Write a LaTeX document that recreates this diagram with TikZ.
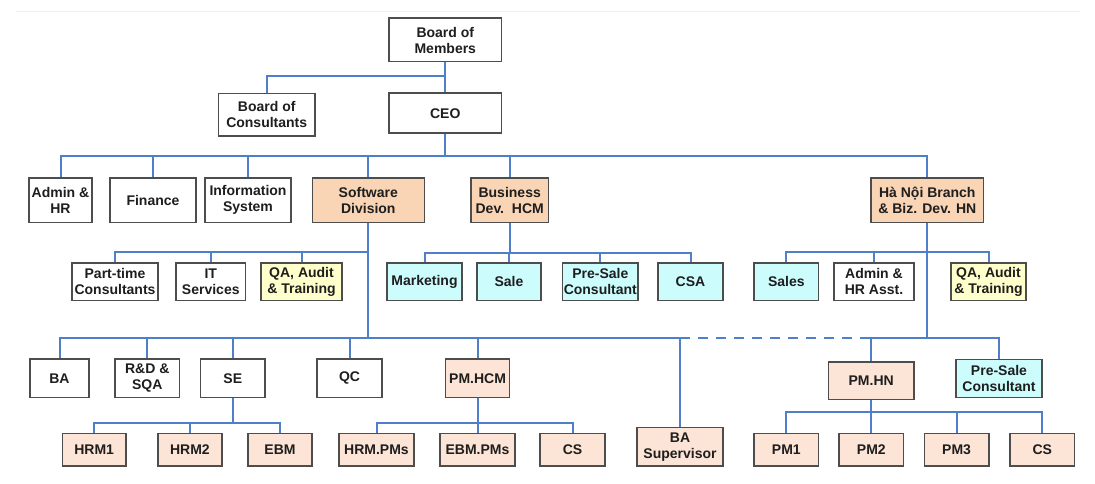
\documentclass[tikz,border=0pt]{standalone}
\usepackage{fontspec}
\setmainfont{Liberation Sans}
\usetikzlibrary{backgrounds}
\definecolor{boxgray}{HTML}{4D4D4D}
\definecolor{txt}{HTML}{1E1E1E}
\definecolor{peachD}{HTML}{F9D4B5}
\definecolor{peachL}{HTML}{FCE4D6}
\definecolor{cyanL}{HTML}{CCFCFC}
\definecolor{yelL}{HTML}{FFFFCC}
\definecolor{lineblue}{HTML}{4F7FC9}
\definecolor{faint}{HTML}{EEEEEE}
\begin{document}
\begin{tikzpicture}[x=1pt,y=-1pt,
  box/.style={draw=boxgray, line width=1.6pt, align=center, inner sep=0pt, text=txt,
    font=\fontsize{14}{16}\selectfont\bfseries},
  sz/.style 2 args={minimum width=#1pt, minimum height=#2pt},
  pD/.style={box, fill=peachD},
  pL/.style={box, fill=peachL},
  cy/.style={box, fill=cyanL},
  yl/.style={box, fill=yelL},
  wt/.style={box, fill=white},
  conn/.style={draw=lineblue, line width=2pt},
  dashconn/.style={conn, dash pattern=on 10pt off 8pt}]
\useasboundingbox (0,0) rectangle (1095,484);
\draw[faint, line width=1pt] (16,12) -- (1080,12);

% level 0-1
\node[wt, sz={112.6}{43.4}] (bom) at (445.3,40) {Board of\\Members};
\node[wt, sz={96.5}{42.7}] (boc) at (266.7,114.7) {Board of\\Consultants};
\node[wt, sz={112.6}{40}] (ceo) at (445.3,113.3) {CEO};

% row 2
\node[wt, sz={63}{44.7}] (admin) at (60.5,200.3) {Admin \&\\HR};
\node[wt, sz={86}{44.7}] (fin) at (153,200.3) {Finance};
\node[wt, sz={86}{44.7}] (info) at (248,200.3) {Information\\System};
\node[pD, sz={112}{44.7}] (soft) at (368.3,200.3) {Software\\Division};
\node[pD, sz={77.3}{44.7}] (bus) at (509.7,200.3) {Business\\Dev.\ \ HCM};
\node[pD, sz={112.5}{44.7}] (hn) at (927.3,200.3) {Hà Nội Branch\\\& Biz. Dev. HN};

% row 3
\node[wt, sz={86}{37.7}] (pt) at (115,281.8) {Part-time\\Consultants};
\node[wt, sz={69.5}{37.7}] (it) at (210.8,281.8) {IT\\Services};
\node[yl, sz={81}{37.7}] (qa) at (301.5,281.8) {QA, Audit\\\& Training};
\node[cy, sz={75}{37.7}] (mkt) at (424.5,281.8) {Marketing};
\node[cy, sz={64}{37.7}] (sale) at (509,281.8) {Sale};
\node[cy, sz={75.5}{37.7}] (presale) at (600.3,281.8) {Pre-Sale\\Consultant};
\node[cy, sz={65}{37.7}] (csa) at (690.5,281.8) {CSA};
\node[cy, sz={64.6}{37.7}] (sales) at (786.3,281.8) {Sales};
\node[wt, sz={80}{37.7}] (asst) at (874,281.8) {Admin \&\\HR Asst.};
\node[yl, sz={75}{37.7}] (qahn) at (988.5,281.8) {QA, Audit\\\& Training};

% row 4
\node[wt, sz={59}{38.3}] (ba) at (59.5,378.2) {BA};
\node[wt, sz={64.6}{38.3}] (rd) at (147.3,378.2) {R\&D \&\\SQA};
\node[wt, sz={64.4}{38.3}] (se) at (232.8,378.2) {SE};
\node[wt, sz={65}{38.3}] (qc) at (349.5,378.2) {QC};
\node[pL, sz={64}{38.3}] (pmhcm) at (477.6,378.2) {PM.HCM};
\node[pL, sz={86}{38.7}] (basup) at (680,446.7) {BA\\Supervisor};
\node[pL, sz={85.6}{37.6}] (pmhn) at (871.2,380.5) {PM.HN};
\node[cy, sz={86}{38}] (presalehn) at (999,378.3) {Pre-Sale\\Consultant};

% row 5
\node[pL, sz={63.6}{32.7}] (hrm1) at (94.2,449.7) {HRM1};
\node[pL, sz={63.7}{32.7}] (hrm2) at (189.9,449.7) {HRM2};
\node[pL, sz={64}{32.7}] (ebm) at (280,449.7) {EBM};
\node[pL, sz={75}{32.7}] (hrmpm) at (376.5,449.7) {HRM.PMs};
\node[pL, sz={75}{32.7}] (ebmpm) at (477.5,449.7) {EBM.PMs};
\node[pL, sz={65}{32.7}] (cs) at (572.5,449.7) {CS};
\node[pL, sz={64.6}{32.7}] (pm1) at (786.3,449.7) {PM1};
\node[pL, sz={64.5}{32.7}] (pm2) at (871.3,449.7) {PM2};
\node[pL, sz={64.2}{32.7}] (pm3) at (956.6,449.7) {PM3};
\node[pL, sz={64.6}{32.7}] (cs2) at (1042.3,449.7) {CS};

% bus levels
\coordinate (b0) at (0,76);
\coordinate (b1) at (0,156);
\coordinate (b3s) at (0,251.7);
\coordinate (b3b) at (0,253.3);
\coordinate (b3n) at (0,251.7);
\coordinate (b4) at (0,338.3);
\coordinate (bse) at (0,422.7);
\coordinate (bpm) at (0,422.7);
\coordinate (bhn) at (0,412.3);

\begin{scope}[on background layer]
\draw[conn] (bom.south) -- (ceo.north);
\draw[conn] (bom.south) |- (boc.north |- b0) -- (boc.north);
\foreach \c in {admin,fin,info,soft,bus,hn}
  \draw[conn] (ceo.south) |- (\c.north |- b1) -- (\c.north);
\foreach \c in {pt,it,qa}
  \draw[conn] (soft.south) |- (\c.north |- b3s) -- (\c.north);
\foreach \c in {ba,rd,se,qc,pmhcm,basup}
  \draw[conn] (soft.south) |- (\c.north |- b4) -- (\c.north);
\foreach \c in {mkt,sale,presale,csa}
  \draw[conn] (bus.south) |- (\c.north |- b3b) -- (\c.north);
\foreach \c in {sales,asst,qahn}
  \draw[conn] (hn.south) |- (\c.north |- b3n) -- (\c.north);
\foreach \c in {pmhn,presalehn}
  \draw[conn] (hn.south) |- (\c.north |- b4) -- (\c.north);
\draw[dashconn] (basup.north |- b4) -- (hn.south |- b4);
\foreach \c in {hrm1,hrm2,ebm}
  \draw[conn] (se.south) |- (\c.north |- bse) -- (\c.north);
\foreach \c in {hrmpm,ebmpm,cs}
  \draw[conn] (pmhcm.south) |- (\c.north |- bpm) -- (\c.north);
\foreach \c in {pm1,pm2,pm3,cs2}
  \draw[conn] (pmhn.south) |- (\c.north |- bhn) -- (\c.north);
\end{scope}
\end{tikzpicture}
\end{document}
